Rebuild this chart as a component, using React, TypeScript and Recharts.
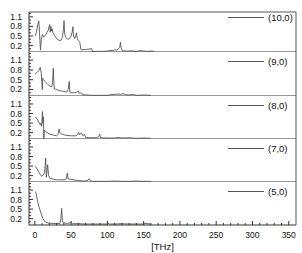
import React from 'react';
import { LineChart, Line, XAxis, YAxis, ReferenceLine, Legend, Label } from 'recharts';

// ---- data (frequency in THz, normalised amplitude) ----
const x10 = [0.5, 2, 4, 5.5, 6.5, 7.8, 9, 10.5, 12.5, 15, 17, 18.5, 19.5, 20.5, 21.3, 22.2, 23, 24, 25, 27, 30, 33, 36, 38, 39.5, 40.3, 41, 42.5, 45, 48, 50, 51.5, 52.5, 53.3, 55, 56.5, 57.5, 58.5, 60, 62, 63.5, 65, 70, 75, 78, 79.5, 85, 95, 100, 105, 108, 110, 113, 115, 117, 118, 119, 121, 125, 128, 132, 135, 140, 145, 150, 155, 160, 165];
const y10 = [0.5, 0.6, 0.85, 0.97, 0.6, 0.06, 0.4, 0.55, 0.47, 0.53, 0.62, 0.68, 0.78, 0.86, 0.62, 0.8, 0.66, 0.72, 0.6, 0.52, 0.42, 0.37, 0.36, 0.45, 0.7, 0.98, 0.6, 0.46, 0.4, 0.42, 0.5, 0.62, 0.79, 0.5, 0.42, 0.52, 0.6, 0.42, 0.36, 0.3, 0.08, 0.07, 0.08, 0.09, 0.11, 0.02, 0.02, 0.02, 0.03, 0.05, 0.04, 0.07, 0.06, 0.1, 0.14, 0.3, 0.12, 0.03, 0.04, 0.02, 0.04, 0.03, 0.02, 0.04, 0.03, 0.02, 0.03, 0.02];

const x9 = [0.5, 3, 5.5, 7.5, 9, 10.3, 10.8, 12, 15, 18, 21, 23.5, 24.5, 25.5, 26.3, 27, 30, 35, 40, 44, 46, 47.5, 48.3, 50, 55, 58, 60, 61, 63, 66, 70, 80, 90, 100, 105, 110, 115, 118, 122, 125, 130, 135, 140, 150, 160];
const y9 = [0.68, 0.72, 0.78, 0.88, 0.7, 0.2, 0.55, 0.5, 0.42, 0.35, 0.3, 0.28, 0.45, 0.85, 0.4, 0.22, 0.2, 0.16, 0.14, 0.12, 0.2, 0.45, 0.12, 0.1, 0.1, 0.12, 0.15, 0.08, 0.1, 0.05, 0.03, 0.02, 0.02, 0.02, 0.04, 0.05, 0.06, 0.05, 0.07, 0.04, 0.03, 0.05, 0.02, 0.03, 0.02];

const x8 = [0.5, 2, 4, 6, 7.5, 8.5, 9.5, 10.5, 11.2, 11.8, 12.5, 13, 14, 17, 21, 26, 30, 32, 33.5, 34.5, 37, 42, 50, 57, 59, 60.5, 61.5, 63, 64.5, 65.5, 67, 68.5, 70, 75, 85, 88, 89.5, 90.5, 100, 110, 115, 120, 130, 140, 150, 160];
const y8 = [0.7, 0.66, 0.6, 0.5, 0.45, 0.5, 0.4, 0.86, 0.5, 0.7, 0.01, 0.28, 0.24, 0.2, 0.15, 0.12, 0.1, 0.14, 0.31, 0.2, 0.16, 0.12, 0.1, 0.1, 0.14, 0.21, 0.13, 0.17, 0.19, 0.12, 0.1, 0.15, 0.05, 0.04, 0.04, 0.07, 0.15, 0.04, 0.03, 0.03, 0.05, 0.03, 0.04, 0.02, 0.03, 0.02];

const x7 = [1, 3, 5, 7, 9.5, 11.8, 13.5, 15, 15.9, 17.7, 19, 21, 25, 30, 36, 42, 43.5, 44.8, 45.8, 48.5, 55, 60, 67, 72, 75, 77, 80, 90, 100, 110, 120, 130, 140, 150, 160];
const y7 = [0.49, 0.42, 0.33, 0.25, 0.18, 0.22, 0.3, 0.75, 0.15, 0.54, 0.2, 0.12, 0.09, 0.07, 0.07, 0.07, 0.12, 0.28, 0.1, 0.09, 0.06, 0.05, 0.03, 0.04, 0.1, 0.03, 0.02, 0.02, 0.02, 0.03, 0.02, 0.02, 0.03, 0.02, 0.02];

const x5 = [1, 1.7, 3.5, 5.8, 8.1, 10.9, 14, 18.6, 25, 30, 34.7, 36, 37, 38, 41.6, 45, 50, 52, 60, 70, 80, 90, 100, 101, 103, 110, 120, 130, 140, 150, 152, 160];
const y5 = [1.05, 1.0, 0.78, 0.57, 0.4, 0.21, 0.1, 0.06, 0.05, 0.05, 0.05, 0.2, 0.52, 0.1, 0.06, 0.05, 0.08, 0.04, 0.04, 0.03, 0.03, 0.03, 0.03, 0.06, 0.03, 0.03, 0.04, 0.03, 0.03, 0.03, 0.05, 0.03];

const seriesNames = ['(10,0)', '(9,0)', '(8,0)', '(7,0)', '(5,0)'];
const seriesX = [x10, x9, x8, x7, x5];
const seriesY = [y10, y9, y8, y7, y5];

const yMajor = [0.2, 0.5, 0.8, 1.1];
const yTicks = [0.1, 0.2, 0.3, 0.4, 0.5, 0.6, 0.7, 0.8, 0.9, 1.0, 1.1, 1.2, 1.3];
const xMajor = [0, 50, 100, 150, 200, 250, 300, 350];
const xTicks = [0, 10, 20, 30, 40, 50, 60, 70, 80, 90, 100, 110, 120, 130, 140, 150, 160, 170, 180, 190, 200, 210, 220, 230, 240, 250, 260, 270, 280, 290, 300, 310, 320, 330, 340, 350];

const FONT = '"Liberation Sans", Arial, Helvetica, sans-serif';
const AXIS = '#333';
const CURVE = '#555';

const YTick = (props: any) => {
  const { x, y, payload } = props;
  const v = payload.value;
  const major = yMajor.some((m) => Math.abs(m - v) < 1e-6);
  return (
    <g>
      <line x1={x} x2={x + (major ? 4 : 2)} y1={y} y2={y} stroke={AXIS} strokeWidth={1} />
      {major && (
        <text x={x - 7} y={y} dy={3} textAnchor="end" fontSize={8.5} fontFamily={FONT} fill="#111">
          {v.toFixed(1)}
        </text>
      )}
    </g>
  );
};

const XTick = (props: any) => {
  const { x, y, payload } = props;
  const v = payload.value;
  const major = xMajor.includes(v);
  return (
    <g>
      <line x1={x} x2={x} y1={y} y2={y - (major ? 4 : 2)} stroke={AXIS} strokeWidth={1} />
      {major && (
        <text x={x} y={y + 13} textAnchor="middle" fontSize={8.5} fontFamily={FONT} fill="#111">
          {v}
        </text>
      )}
    </g>
  );
};

const LegendBox = ({ label }: { label: string }) => (
  <div style={{ display: 'flex', alignItems: 'center', fontFamily: FONT, fontSize: 9.5, color: '#111', whiteSpace: 'nowrap', lineHeight: '11px' }}>
    <svg width={36} height={3} style={{ display: 'block' }}>
      <line x1={0} x2={36} y1={1.5} y2={1.5} stroke={CURVE} strokeWidth={1} />
    </svg>
    <span style={{ marginLeft: 4 }}>{label}</span>
  </div>
);

// panel plot top/bottom (pixels) and y domain top
const panels = [
  { top: 12, bottom: 52, ymax: 1.25 },
  { top: 52, bottom: 96, ymax: 1.35 },
  { top: 96, bottom: 139, ymax: 1.35 },
  { top: 139, bottom: 182, ymax: 1.35 },
  { top: 182, bottom: 225, ymax: 1.35 },
];

const XMIN = -8;
const XMAX = 360;

export default function App() {
  return (
    <div style={{ position: 'absolute', left: 0, top: 0, width: 302, height: 253, background: '#fff', overflow: 'hidden' }}>
      {panels.map((p, i) => {
        const last = i === panels.length - 1;
        const plotH = p.bottom - p.top;
        const xAxisH = last ? 28 : 0;
        const data = seriesX[i].map((xv, k) => ({ x: xv, y: seriesY[i][k] }));
        const ticks = yTicks.filter((t) => t < p.ymax - 0.02);
        const legendTop = (i === 0 ? 7 : 11) - 5.5;
        return (
          <div key={i} style={{ position: 'absolute', left: 0, top: p.top - 2 }}>
            <LineChart
              width={302}
              height={2 + plotH + xAxisH}
              data={data}
              margin={{ top: 2, right: 6, bottom: 0, left: 0 }}
            >
              <XAxis
                dataKey="x"
                type="number"
                domain={[XMIN, XMAX]}
                ticks={xTicks}
                interval={0}
                hide={!last}
                tick={<XTick />}
                tickLine={false}
                tickSize={0}
                tickMargin={0}
                height={xAxisH}
                axisLine={{ stroke: AXIS, strokeWidth: 1 }}
              >
                {last && (
                  <Label value="[THz]" position="insideBottom" offset={3} style={{ fontFamily: FONT, fontSize: 9.5, fill: '#111' }} />
                )}
              </XAxis>
              <YAxis
                type="number"
                domain={[0, p.ymax]}
                ticks={ticks}
                interval={0}
                width={29}
                tick={<YTick />}
                tickLine={false}
                tickSize={0}
                tickMargin={0}
                axisLine={{ stroke: AXIS, strokeWidth: 1 }}
              />
              <ReferenceLine x={XMAX} stroke="#555" strokeWidth={1} />
              {i === 0 && <ReferenceLine y={p.ymax} stroke="#555" strokeWidth={1} />}
              {!last && <ReferenceLine y={0} stroke={AXIS} strokeWidth={1} />}
              <Legend
                layout="vertical"
                align="center"
                verticalAlign="middle"
                wrapperStyle={{ top: legendTop, left: 228, width: 72, height: 11 }}
                content={() => <LegendBox label={seriesNames[i]} />}
              />
              <Line
                type="linear"
                dataKey="y"
                name={seriesNames[i]}
                stroke={CURVE}
                strokeWidth={0.9}
                dot={false}
                isAnimationActive={false}
              />
            </LineChart>
          </div>
        );
      })}
    </div>
  );
}
